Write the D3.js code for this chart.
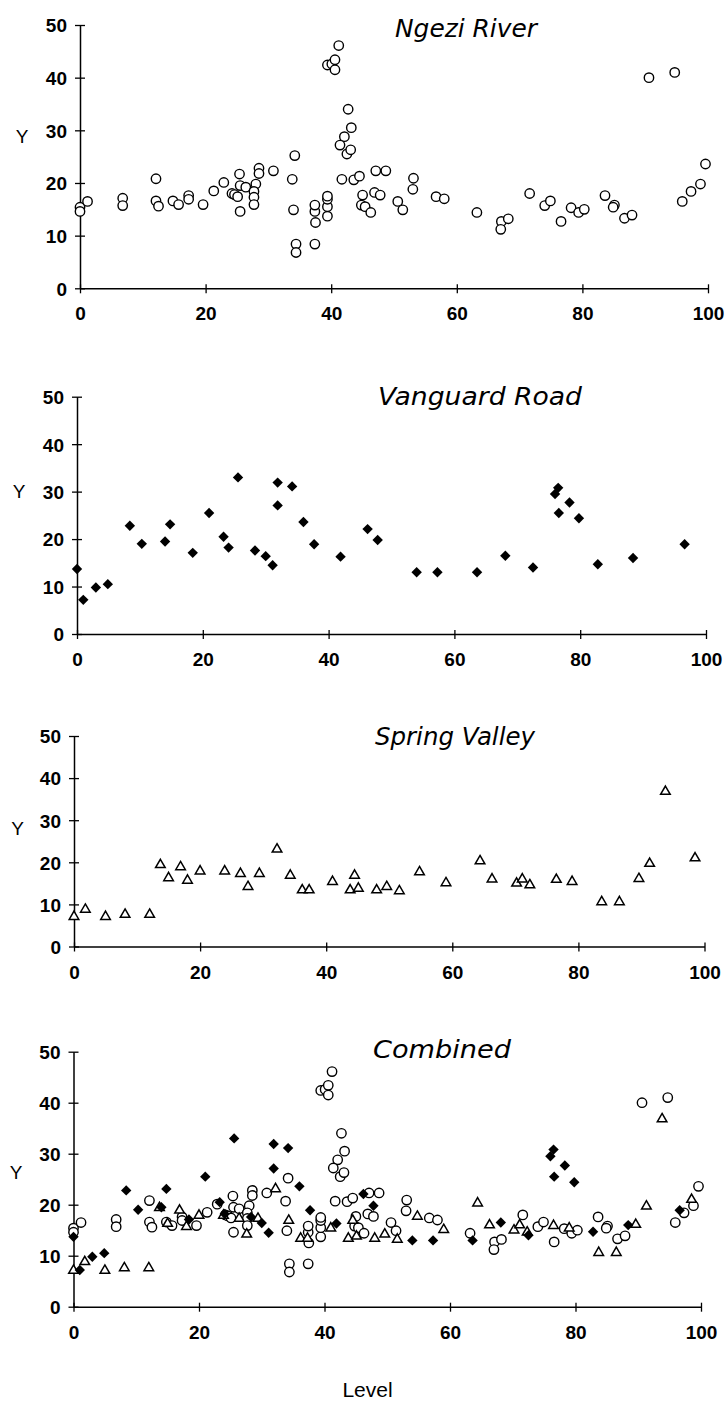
<!DOCTYPE html>
<html>
<head>
<meta charset="utf-8">
<script src="https://cdn.jsdelivr.net/npm/d3@7"></script>
<style>
  html, body { margin: 0; padding: 0; background: #fff; }
  svg { display: block; }
</style>
</head>
<body>
<svg id="chart" width="726" height="1403"></svg>
<script>
// ---------------- data ----------------
const panelTitles = ["Ngezi River", "Vanguard Road", "Spring Valley", "Combined"];
const xTicks = [0, 20, 40, 60, 80, 100];
const yTicks = [0, 10, 20, 30, 40, 50];
const xAxisTitle = "Level";
const yAxisTitle = "Y";

// Ngezi River (open circles): [Level, Y]
const ngeziPoints = [
  [0,15.4],[0,14.6],[1.2,16.5],[6.8,17.1],[6.8,15.7],[12.1,20.8],[12.1,16.6],[12.5,15.6],
  [14.8,16.6],[15.7,15.9],[17.3,17.6],[17.3,16.9],[19.6,15.9],[21.3,18.5],[22.9,20.1],
  [24.2,18.0],[24.6,17.8],[25.1,17.4],[25.4,21.7],[25.5,19.5],[25.5,14.6],[26.4,19.2],
  [28.0,19.8],[27.7,18.4],[27.7,17.3],[27.7,15.9],[28.5,22.8],[28.5,21.8],[30.8,22.3],
  [33.8,20.7],[34.2,25.2],[34.0,14.9],[34.4,8.4],[34.4,6.8],[37.5,12.5],[37.4,14.6],
  [37.4,15.8],[37.4,8.4],[39.4,13.7],[39.4,15.5],[39.4,16.9],[39.4,17.5],[39.4,42.4],
  [40.1,42.6],[40.6,43.4],[40.6,41.5],[41.2,46.1],[42.7,34.0],[43.2,30.5],[42.1,28.8],
  [41.4,27.2],[42.5,25.5],[43.1,26.3],[41.7,20.7],[43.6,20.6],[44.5,21.3],[45.0,17.7],
  [44.8,15.8],[45.4,15.5],[46.3,14.4],[46.9,18.2],[47.8,17.7],[47.1,22.3],[48.7,22.3],
  [50.6,16.5],[51.4,14.9],[53.1,20.9],[53.0,18.8],[56.7,17.4],[58.0,17.0],[63.2,14.4],
  [67.1,12.7],[67.0,11.2],[68.2,13.2],[71.6,18.0],[74.0,15.7],[74.9,16.6],[76.6,12.7],
  [78.2,15.3],[79.4,14.4],[80.3,15.0],[83.6,17.6],[85.1,15.8],[84.9,15.4],[86.7,13.3],
  [87.9,13.9],[90.6,40.0],[94.7,41.0],[95.9,16.5],[97.3,18.4],[98.8,19.8],[99.6,23.6]
];

// Vanguard Road (filled diamonds): [Level, Y]
const vanguardPoints = [
  [0,13.7],[1.0,7.2],[3.0,9.8],[4.9,10.5],[8.4,22.8],[10.3,19.0],[14.0,19.5],[14.8,23.1],
  [18.4,17.1],[21.0,25.5],[23.3,20.5],[24.1,18.2],[25.6,33.0],[28.3,17.6],[30.0,16.4],
  [31.1,14.5],[31.9,31.9],[31.9,27.1],[34.2,31.1],[36.0,23.6],[37.7,18.9],[41.9,16.3],
  [46.2,22.1],[47.8,19.8],[54.0,13.0],[57.3,13.0],[63.6,13.0],[68.1,16.5],[72.5,14.0],
  [76.0,29.5],[76.5,30.8],[76.6,25.5],[78.3,27.7],[79.8,24.4],[82.8,14.7],[88.4,16.0],
  [96.6,18.9]
];

// Spring Valley (open triangles): [Level, Y]
const springPoints = [
  [0,7.1],[1.8,8.8],[5.0,7.1],[8.1,7.6],[12.0,7.6],[13.7,19.4],[15.0,16.3],[16.9,18.9],
  [18.0,15.7],[20.0,17.9],[23.9,17.9],[26.4,17.3],[27.6,14.2],[29.4,17.3],[32.2,23.1],
  [34.3,16.9],[36.2,13.4],[37.3,13.4],[41.0,15.4],[43.8,13.4],[44.5,16.9],[45.1,13.8],
  [48.0,13.4],[49.6,14.2],[51.6,13.2],[54.8,17.7],[59.0,15.1],[64.4,20.3],[66.3,16.0],
  [70.2,15.0],[71.1,16.0],[72.3,14.6],[76.5,15.9],[79.0,15.4],[83.7,10.6],[86.5,10.6],
  [89.6,16.1],[91.3,19.7],[93.8,36.8],[98.5,21.0]
];

// which series appear in each panel
const panelSeries = [["ngezi"], ["vanguard"], ["spring"], ["ngezi", "spring", "vanguard"]];

// ---------------- layout (pixels) ----------------
const layout = [
  { x0: 80,   x1: 708,   yb: 288.3,  yt: 25,     tx: 395, ty: 37,   tl: 142, lx: 22,   ly: 143 },
  { x0: 77,   x1: 706,   yb: 634,    yt: 396.7,  tx: 378, ty: 405,  tl: 204, lx: 19,   ly: 498 },
  { x0: 74,   x1: 704.5, yb: 946.5,  yt: 736,    tx: 375, ty: 745,  tl: 160, lx: 17.5, ly: 835 },
  { x0: 73.5, x1: 701,   yb: 1306.7, yt: 1051.7, tx: 373, ty: 1058, tl: 138, lx: 16,   ly: 1179 }
];

const seriesData = { ngezi: ngeziPoints, vanguard: vanguardPoints, spring: springPoints };

const svg = d3.select("#chart");
const tickFont = "'Liberation Sans', Arial, Helvetica, sans-serif";

const circleSym = d3.symbol().type(d3.symbolCircle).size(Math.PI * 4.7 * 4.7);
const diamondSym = d3.symbol().type(d3.symbolSquare).size(54);
const triSym = d3.symbol().type(d3.symbolTriangle).size(40);

panelTitles.forEach((title, i) => {
  const L = layout[i];
  const x = d3.scaleLinear().domain([0, 100]).range([L.x0, L.x1]);
  const y = d3.scaleLinear().domain([0, 50]).range([L.yb, L.yt]);
  const g = svg.append("g");

  // x axis
  const gx = g.append("g")
    .attr("transform", `translate(0,${L.yb})`)
    .call(d3.axisBottom(x).tickValues(xTicks).tickSize(5).tickSizeOuter(0).tickFormat(d3.format("d")));
  gx.select(".domain").attr("stroke", "#000").attr("stroke-width", 1.5);
  gx.selectAll(".tick line").attr("y1", -4).attr("y2", 5).attr("stroke", "#000").attr("stroke-width", 1.3);
  gx.selectAll(".tick text")
    .attr("y", 32).attr("dy", null)
    .attr("font-family", tickFont).attr("font-weight", "bold").attr("font-size", 19).attr("fill", "#000");

  // y axis
  const gy = g.append("g")
    .attr("transform", `translate(${L.x0},0)`)
    .call(d3.axisLeft(y).tickValues(yTicks).tickSize(5).tickSizeOuter(0).tickFormat(d3.format("d")));
  gy.select(".domain").attr("stroke", "#000").attr("stroke-width", 1.5);
  gy.selectAll(".tick line").attr("x1", -5).attr("x2", 5).attr("stroke", "#000").attr("stroke-width", 1.3);
  gy.selectAll(".tick text")
    .attr("x", -13).attr("dy", "0.36em")
    .attr("font-family", tickFont).attr("font-weight", "bold").attr("font-size", 19).attr("fill", "#000");

  // Y label
  g.append("text")
    .attr("x", L.lx).attr("y", L.ly)
    .attr("text-anchor", "middle")
    .attr("font-family", tickFont).attr("font-size", 19).attr("fill", "#000")
    .text(yAxisTitle);

  // title
  g.append("text")
    .attr("x", L.tx).attr("y", L.ty)
    .attr("font-family", "'DejaVu Sans', sans-serif").attr("font-style", "italic")
    .attr("font-size", 24).attr("fill", "#000")
    .attr("textLength", L.tl).attr("lengthAdjust", "spacingAndGlyphs")
    .text(title);

  // marks
  panelSeries[i].forEach(key => {
    const pts = seriesData[key];
    const sel = g.append("g").selectAll("path").data(pts).join("path");
    if (key === "ngezi") {
      sel.attr("d", circleSym)
        .attr("transform", d => `translate(${x(d[0])},${y(d[1])})`)
        .attr("fill", "#fff").attr("stroke", "#000").attr("stroke-width", 1.4);
    } else if (key === "vanguard") {
      sel.attr("d", diamondSym)
        .attr("transform", d => `translate(${x(d[0])},${y(d[1])}) rotate(45)`)
        .attr("fill", "#000").attr("stroke", "none");
    } else {
      sel.attr("d", triSym)
        .attr("transform", d => `translate(${x(d[0])},${y(d[1])})`)
        .attr("fill", "#fff").attr("stroke", "#000").attr("stroke-width", 1.5);
    }
  });
});

// x axis title
svg.append("text")
  .attr("x", 367.5).attr("y", 1397)
  .attr("text-anchor", "middle")
  .attr("font-family", tickFont).attr("font-size", 21).attr("fill", "#000")
  .text(xAxisTitle);
</script>
</body>
</html>
